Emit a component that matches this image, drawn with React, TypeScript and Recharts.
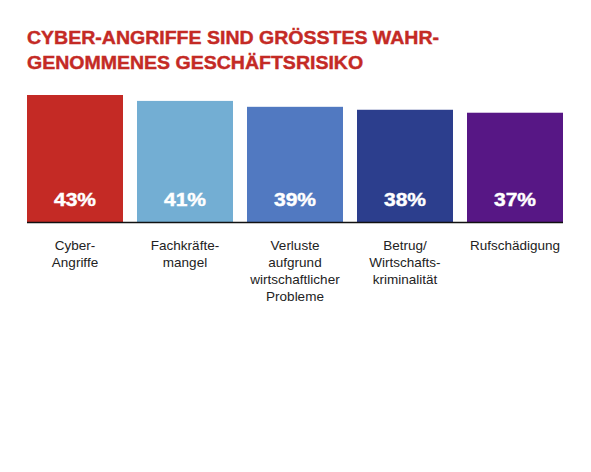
import React from "react";
import { BarChart, Bar, XAxis, YAxis, Cell, LabelList } from "recharts";

const titleLines = ["CYBER-ANGRIFFE SIND GRÖSSTES WAHR-", "GENOMMENES GESCHÄFTSRISIKO"];
const categories = ["Cyber-Angriffe", "Fachkräftemangel", "Verluste", "Betrug", "Rufschädigung"];
const tickLabels = [
  ["Cyber-", "Angriffe"],
  ["Fachkräfte-", "mangel"],
  ["Verluste", "aufgrund", "wirtschaftlicher", "Probleme"],
  ["Betrug/", "Wirtschafts-", "kriminalität"],
  ["Rufschädigung"],
];
const values = [43, 41, 39, 38, 37];
const colors = ["#C42A25", "#73AED3", "#5179C1", "#2C3E8D", "#571785"];

const data = categories.map((c, i) => ({ name: c, value: values[i], idx: i }));

const FONT = "'Liberation Sans', Arial, Helvetica, sans-serif";

const BarShape = (props: any) => {
  const { x, y, width, height, fill, index } = props;
  const gap = 7;
  const x1 = index === 0 ? x : x - gap;
  const x2 = index === values.length - 1 ? x + width : x + width + gap;
  return (
    <g>
      <rect x={x} y={y} width={width} height={height} fill={fill} />
      <line x1={x1} x2={x2} y1={y + height + 0.5} y2={y + height + 0.5} stroke="#111" strokeWidth={1.3} />
    </g>
  );
};

const Tick = (props: any) => {
  const { x, y, payload } = props;
  const lines = tickLabels[payload.index] || [];
  return (
    <text x={x} y={y + 28} textAnchor="middle" fontFamily={FONT} fontSize={13.5} fill="#222">
      {lines.map((l, i) => (
        <tspan key={i} x={x} dy={i === 0 ? 0 : 17}>
          {l}
        </tspan>
      ))}
    </text>
  );
};

const PctLabel = (props: any) => {
  const { x, y, width, height, value } = props;
  const cx = x + width / 2;
  const by = y + height - 16;
  return (
    <text
      x={0}
      y={0}
      transform={`translate(${cx},${by}) scale(1.2,1)`}
      textAnchor="middle"
      fontFamily={FONT}
      fontWeight="bold"
      fontSize={17.5}
      fill="#fff"
      stroke="#fff"
      strokeWidth={0.4}
    >
      {value}%
    </text>
  );
};

export default function App() {
  return (
    <div style={{ position: "absolute", left: 0, top: 0, width: 591, height: 472, background: "#fff" }}>
      <svg width={591} height={80} style={{ position: "absolute", left: 0, top: 0 }}>
        {titleLines.map((t, i) => (
          <text
            key={i}
            x={0}
            y={0}
            transform={`translate(27,${44 + i * 25}) scale(1.085,1)`}
            fontFamily={FONT}
            fontWeight="bold"
            fontSize={18}
            fill="#C42A25"
            stroke="#C42A25"
            strokeWidth={0.4}
          >
            {t}
          </text>
        ))}
      </svg>
      <div style={{ position: "absolute", left: 0, top: 0 }}>
        <BarChart
          width={591}
          height={472}
          data={data}
          margin={{ top: 95, right: 21, bottom: 0, left: 20 }}
          barCategoryGap={7}
        >
          <XAxis
            dataKey="name"
            axisLine={false}
            tickLine={false}
            tickSize={0}
            tickMargin={0}
            height={250}
            interval={0}
            tick={<Tick />}
          />
          <YAxis hide domain={[0, 43]} />
          <Bar dataKey="value" isAnimationActive={false} shape={<BarShape />}>
            {data.map((d, i) => (
              <Cell key={i} fill={colors[i]} />
            ))}
            <LabelList dataKey="value" content={<PctLabel />} />
          </Bar>
        </BarChart>
      </div>
    </div>
  );
}
